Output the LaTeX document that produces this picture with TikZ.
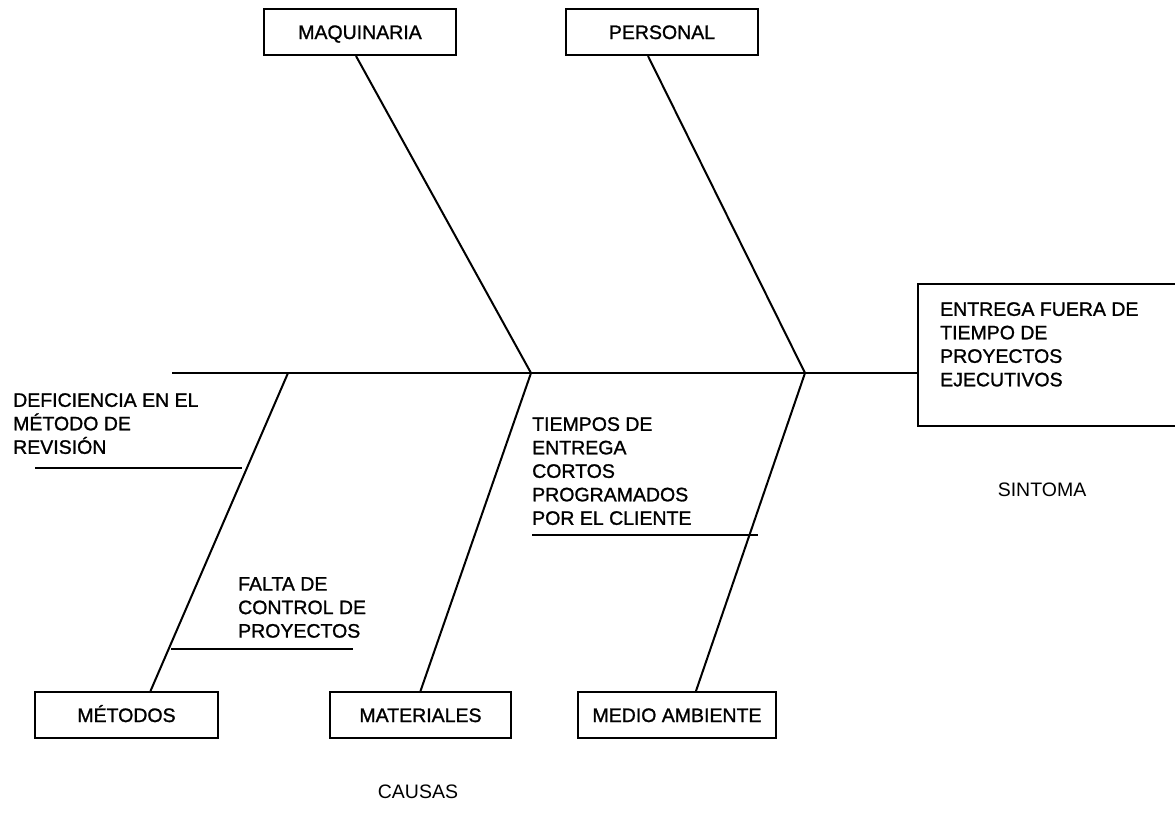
\documentclass[tikz,border=0pt]{standalone}
\usepackage{fontspec}
\setmainfont{Liberation Sans}[UprightFeatures={FakeBold=1.2}]
\newfontfamily\captionfont{Liberation Sans}
\usetikzlibrary{calc}
\begin{document}
\begin{tikzpicture}[x=1pt,y=-1pt,
  every node/.style={font=\fontsize{19.5}{23.5}\selectfont},
  bone/.style={line width=2pt},
  catbox/.style={draw, line width=2pt, minimum height=46pt, inner sep=0pt,
                 text height=14pt, text depth=0pt, anchor=north west},
  cause/.style={align=left, anchor=north west, inner sep=0pt},
  caption/.style={font=\captionfont\fontsize{19.5}{23.5}\selectfont}]
\useasboundingbox (0,0) rectangle (1175,820);

% category boxes
\node[catbox, minimum width=192pt] (maq) at (263,8) {MAQUINARIA};
\node[catbox, minimum width=192pt] (per) at (565,8) {PERSONAL};
\node[catbox, minimum width=183pt] (met) at (34,691) {MÉTODOS};
\node[catbox, minimum width=181pt] (mat) at (329,691) {MATERIALES};
\node[catbox, minimum width=198pt] (med) at (577,691) {MEDIO AMBIENTE};

% effect box
\node[draw, line width=2pt, minimum width=268pt, minimum height=142pt,
      inner sep=0pt, anchor=north west] (sym) at (917,283) {};
\node[cause] (symtxt) at (940,302) {ENTREGA FUERA DE\\TIEMPO DE\\PROYECTOS\\EJECUTIVOS};

% spine and junctions
\coordinate (tail) at (172,373);
\coordinate (j0) at (288,373);
\coordinate (j1) at (531,373);
\coordinate (j2) at (805,373);
\draw[bone] (tail) -- (tail -| sym.west);

% main bones
\draw[bone] ($(maq.south)+(-4,0)$) -- (j1);
\draw[bone] ($(per.south)+(-14,0)$) -- (j2);
\draw[bone] (j0) -- ($(met.north)+(24,0)$);
\draw[bone] (j1) -- ($(mat.north)+(0,0)$);
\draw[bone] (j2) -- ($(med.north)+(19,0)$);

% sub-causes
\node[cause] (defic) at (13,393) {DEFICIENCIA EN EL\\MÉTODO DE\\REVISIÓN};
\coordinate (d1) at (35,468);
\coordinate (d2) at (242,468);
\draw[bone] (d1) -- (d2);

\node[cause] (falta) at (238,577) {FALTA DE\\CONTROL DE\\PROYECTOS};
\coordinate (f1) at (171,649);
\coordinate (f2) at (353,649);
\draw[bone] (f1) -- (f2);

\node[cause] (tiempos) at (532,417) {TIEMPOS DE\\ENTREGA\\CORTOS\\PROGRAMADOS\\POR EL CLIENTE};
\coordinate (t1) at (532,535);
\coordinate (t2) at (758,535);
\draw[bone] (t1) -- (t2);

% captions
\node[caption] (causas) at (418,792) {CAUSAS};
\node[caption] (sintoma) at (1042,490) {SINTOMA};
\end{tikzpicture}
\end{document}
